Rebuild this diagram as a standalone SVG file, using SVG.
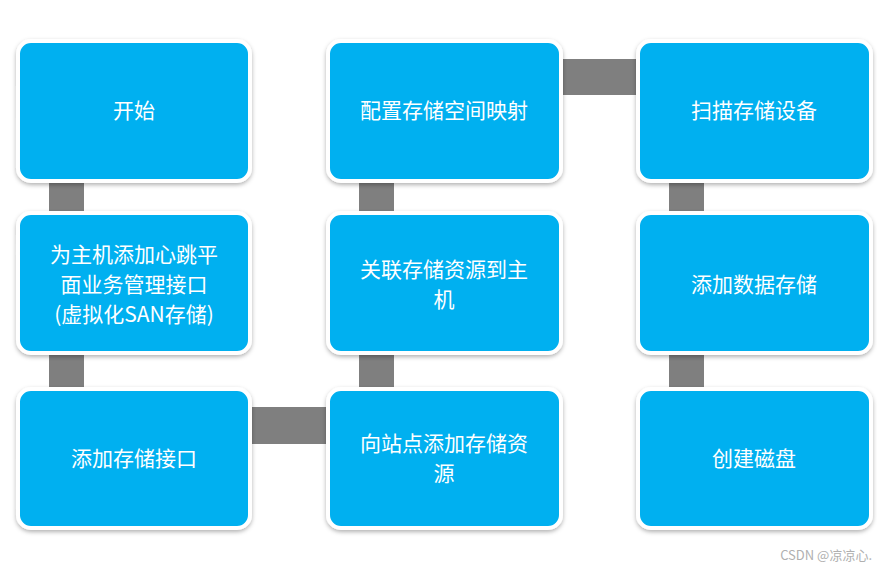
<svg xmlns="http://www.w3.org/2000/svg" width="877" height="569" viewBox="0 0 877 569">
<defs>
<style>
.b{fill:#00B0F0;stroke:#fff;stroke-width:4}
.t{fill:#fff;font-family:"Noto Sans CJK SC","Noto Sans",sans-serif;font-size:21px;text-anchor:middle}
.c{fill:#7f7f7f}
</style>
<filter id="s" x="-10%" y="-10%" width="120%" height="130%"><feDropShadow dx="0" dy="2" stdDeviation="2" flood-color="#000" flood-opacity="0.3"/></filter>
</defs>
<rect width="877" height="569" fill="#fff"/>
<g id="connectors">
<rect class="c" x="49" y="179" width="35" height="36"/>
<rect class="c" x="49" y="352" width="35" height="39"/>
<rect class="c" x="248" y="407" width="81" height="37"/>
<rect class="c" x="359" y="352" width="35" height="39"/>
<rect class="c" x="359" y="179" width="35" height="36"/>
<rect class="c" x="559" y="59" width="80" height="36"/>
<rect class="c" x="669" y="179" width="35" height="36"/>
<rect class="c" x="669" y="352" width="35" height="39"/>
</g>
<g id="n1"><rect class="b" filter="url(#s)" x="18" y="41" width="232" height="140" rx="13"/><text class="t" x="134" y="118">开始</text></g>
<g id="n2"><rect class="b" filter="url(#s)" x="18" y="213" width="232" height="140" rx="13"/><text class="t" x="134" y="262">为主机添加心跳平</text><text class="t" x="134" y="292">面业务管理接口</text><text class="t" x="134" y="322">(虚拟化SAN存储)</text></g>
<g id="n3"><rect class="b" filter="url(#s)" x="18" y="389" width="232" height="139" rx="13"/><text class="t" x="134" y="466">添加存储接口</text></g>
<g id="n4"><rect class="b" filter="url(#s)" x="328" y="389" width="233" height="139" rx="13"/><text class="t" x="444" y="451">向站点添加存储资</text><text class="t" x="444" y="481">源</text></g>
<g id="n5"><rect class="b" filter="url(#s)" x="328" y="213" width="233" height="140" rx="13"/><text class="t" x="444" y="277">关联存储资源到主</text><text class="t" x="444" y="307">机</text></g>
<g id="n6"><rect class="b" filter="url(#s)" x="328" y="41" width="233" height="140" rx="13"/><text class="t" x="444" y="118">配置存储空间映射</text></g>
<g id="n7"><rect class="b" filter="url(#s)" x="638" y="41" width="233" height="140" rx="13"/><text class="t" x="754" y="118">扫描存储设备</text></g>
<g id="n8"><rect class="b" filter="url(#s)" x="638" y="213" width="233" height="140" rx="13"/><text class="t" x="754" y="292">添加数据存储</text></g>
<g id="n9"><rect class="b" filter="url(#s)" x="638" y="389" width="233" height="139" rx="13"/><text class="t" x="754" y="466">创建磁盘</text></g>
<text x="872" y="560" font-family="Noto Sans CJK SC,sans-serif" font-size="13" fill="#b0b0b0" text-anchor="end">CSDN @凉凉心.</text>
</svg>
